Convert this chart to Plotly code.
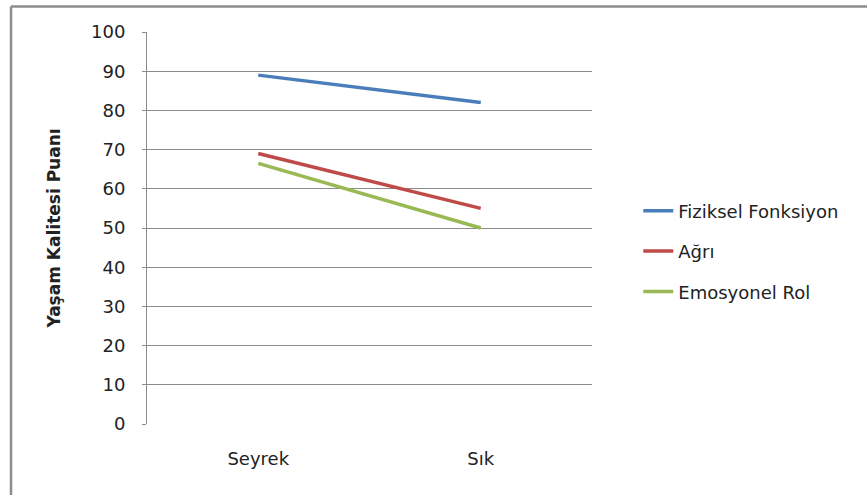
import plotly.graph_objects as go

# Quality-of-life scores by frequency group
categories = ["Seyrek", "Sık"]
fiziksel_fonksiyon = [89, 82]
agri = [69, 55]
emosyonel_rol = [66.5, 50]

series_names = ["Fiziksel Fonksiyon", "Ağrı", "Emosyonel Rol"]
series_values = [fiziksel_fonksiyon, agri, emosyonel_rol]
series_colors = ["#4A7EBB", "#BE4B48", "#98B954"]

y_ticks = list(range(0, 101, 10))

FONT = "DejaVu Sans"
GRID = "#8c8c8c"

fig = go.Figure()
for i, (name, vals, col) in enumerate(zip(series_names, series_values, series_colors)):
    fig.add_trace(go.Scatter(
        x=categories, y=vals, name=name, mode="lines",
        line=dict(color=col, width=3.5),
        legendgroup=f"g{i}",
    ))

fig.update_layout(
    width=867, height=495,
    margin=dict(l=147, r=275, t=32, b=71),
    paper_bgcolor="white", plot_bgcolor="white",
    font=dict(family=FONT, size=16, color="#222222"),
    showlegend=True,
    legend=dict(
        x=1.104, y=0.44, xanchor="left", yanchor="middle",
        traceorder="grouped", tracegroupgap=14,
        font=dict(family=FONT, size=18, color="#222222"),
        bgcolor="rgba(0,0,0,0)",
    ),
    xaxis=dict(
        type="category", range=[-0.5, 1.5],
        showgrid=False, zeroline=False, showline=False,
        ticks="", tickfont=dict(size=18), ticklabelstandoff=22,
    ),
    yaxis=dict(
        range=[0, 100], tickvals=y_ticks, ticktext=[str(v) for v in y_ticks],
        showgrid=True, gridcolor=GRID, gridwidth=1,
        zeroline=False, showline=True, linecolor=GRID, linewidth=1,
        ticks="outside", ticklen=4, tickcolor=GRID,
        tickfont=dict(size=18), ticklabelstandoff=13,
        title=dict(text="<b>Yaşam Kalitesi Puanı</b>", font=dict(size=17), standoff=26),
    ),
    shapes=[
        # outer chart frame (top and left edges)
        dict(type="line", xref="paper", yref="paper",
             x0=-0.3056, x1=1.7, y0=1.065, y1=1.065,
             line=dict(color="#8c8c8c", width=2.5)),
        dict(type="line", xref="paper", yref="paper",
             x0=-0.3056, x1=-0.3056, y0=1.065, y1=-0.2,
             line=dict(color="#8c8c8c", width=2.5)),
    ],
)

fig.write_html("out.html")
